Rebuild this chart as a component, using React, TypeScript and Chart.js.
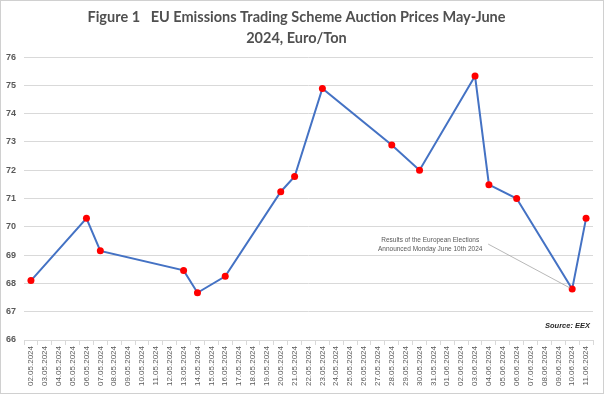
import React, { useEffect, useRef } from "react";
import { Chart, registerables } from "chart.js";

Chart.register(...registerables);

const dateLabels: string[] = [
  "02.05.2024", "03.05.2024", "04.05.2024", "05.05.2024", "06.05.2024", "07.05.2024",
  "08.05.2024", "09.05.2024", "10.05.2024", "11.05.2024", "12.05.2024", "13.05.2024",
  "14.05.2024", "15.05.2024", "16.05.2024", "17.05.2024", "18.05.2024", "19.05.2024",
  "20.05.2024", "21.05.2024", "22.05.2024", "23.05.2024", "24.05.2024", "25.05.2024",
  "26.05.2024", "27.05.2024", "28.05.2024", "29.05.2024", "30.05.2024", "31.05.2024",
  "01.06.2024", "02.06.2024", "03.06.2024", "04.06.2024", "05.06.2024", "06.06.2024",
  "07.06.2024", "08.06.2024", "09.06.2024", "10.06.2024", "11.06.2024",
];

const auctionPrices: (number | null)[] = [
  68.1, null, null, null, 70.3, 69.15,
  null, null, null, null, null, 68.46,
  67.67, null, 68.25, null, null, null,
  71.24, 71.78, null, 74.89, null, null,
  null, null, 72.89, null, 72.0, null,
  null, null, 75.33, 71.49, null, 71.0,
  null, null, null, 67.8, 70.3,
];

const titleLines: string[] = [
  "Figure 1   EU Emissions Trading Scheme Auction Prices May-June",
  "2024, Euro/Ton",
];
const annotationLines: string[] = [
  "Results of the European Elections",
  "Announced Monday June 10th 2024",
];
const annotationDate = "10.06.2024";
const sourceText = "Source: EEX";
const yMin = 66;
const yMax = 76;

const GREY = "#595959";
const GRID = "#d9d9d9";

const backgroundPlugin = {
  id: "bgBorder",
  beforeDraw(chart: any) {
    const { ctx, width, height } = chart;
    ctx.save();
    ctx.fillStyle = "#ffffff";
    ctx.fillRect(0, 0, width, height);
    ctx.strokeStyle = "#d0d0d0";
    ctx.lineWidth = 1;
    ctx.strokeRect(0.5, 0.5, width - 1, height - 1);
    ctx.restore();
  },
};

const notesPlugin = {
  id: "notes",
  afterDatasetsDraw(chart: any) {
    const { ctx, chartArea, scales } = chart;
    const idx = dateLabels.indexOf(annotationDate);
    const val = auctionPrices[idx] as number;
    const px = scales.x.getPixelForValue(idx);
    const py = scales.y.getPixelForValue(val);
    ctx.save();
    ctx.strokeStyle = "#a6a6a6";
    ctx.lineWidth = 0.8;
    ctx.beginPath();
    ctx.moveTo(px - 84, py - 45);
    ctx.lineTo(px - 2, py - 1);
    ctx.stroke();
    ctx.fillStyle = GREY;
    ctx.font = "6.5px 'Liberation Sans', Arial, sans-serif";
    ctx.textAlign = "center";
    ctx.textBaseline = "middle";
    ctx.fillText(annotationLines[0], px - 142, py - 49);
    ctx.fillText(annotationLines[1], px - 142, py - 40);
    ctx.fillStyle = "#262626";
    ctx.font = "italic bold 7.5px 'Liberation Sans', Arial, sans-serif";
    ctx.textAlign = "right";
    ctx.fillText(sourceText, chartArea.right - 3, chartArea.bottom - 14);
    ctx.restore();
  },
};

export default function App() {
  const canvasRef = useRef<HTMLCanvasElement | null>(null);

  useEffect(() => {
    document.body.style.margin = "0";
    const canvas = canvasRef.current;
    if (!canvas) return;
    const chart = new Chart(canvas, {
      type: "line",
      data: {
        labels: dateLabels,
        datasets: [
          {
            data: auctionPrices,
            borderColor: "#4472C4",
            borderWidth: 2,
            tension: 0,
            spanGaps: true,
            pointRadius: 3.5,
            pointBackgroundColor: "#FF0000",
            pointBorderColor: "#FF0000",
            pointBorderWidth: 0,
          },
        ],
      },
      options: {
        animation: false,
        responsive: true,
        maintainAspectRatio: false,
        layout: { padding: { left: 0, right: 11, top: 0, bottom: 0 } },
        plugins: {
          legend: { display: false },
          tooltip: { enabled: false },
          title: {
            display: true,
            text: titleLines,
            color: "#505050",
            font: { family: "Lato, 'Open Sans', sans-serif", size: 14.5, weight: "bold", lineHeight: 1.45 },
            padding: { top: 6.5, bottom: 8.5 },
          },
        },
        scales: {
          x: {
            type: "category",
            offset: true,
            grid: {
              display: true,
              drawOnChartArea: false,
              drawTicks: true,
              tickLength: 5,
              offset: true,
              color: GRID,
            },
            border: { display: true, color: GRID },
            ticks: {
              autoSkip: false,
              minRotation: 90,
              maxRotation: 90,
              padding: 1,
              color: GREY,
              font: { family: "'Liberation Sans', Arial, sans-serif", size: 8 },
            },
            afterFit(scale: any) {
              scale.height = 54;
            },
          },
          y: {
            min: yMin,
            max: yMax,
            grid: { color: GRID, drawTicks: false },
            border: { display: false },
            ticks: {
              stepSize: 1,
              padding: 8,
              color: GREY,
              font: { family: "'Liberation Sans', Arial, sans-serif", size: 9, weight: "bold" },
            },
            afterFit(scale: any) {
              scale.width = 24;
            },
          },
        },
      },
      plugins: [backgroundPlugin, notesPlugin],
    } as any);
    return () => chart.destroy();
  }, []);

  return (
    <div style={{ position: "relative", width: 604, height: 394 }}>
      <canvas ref={canvasRef} />
    </div>
  );
}
